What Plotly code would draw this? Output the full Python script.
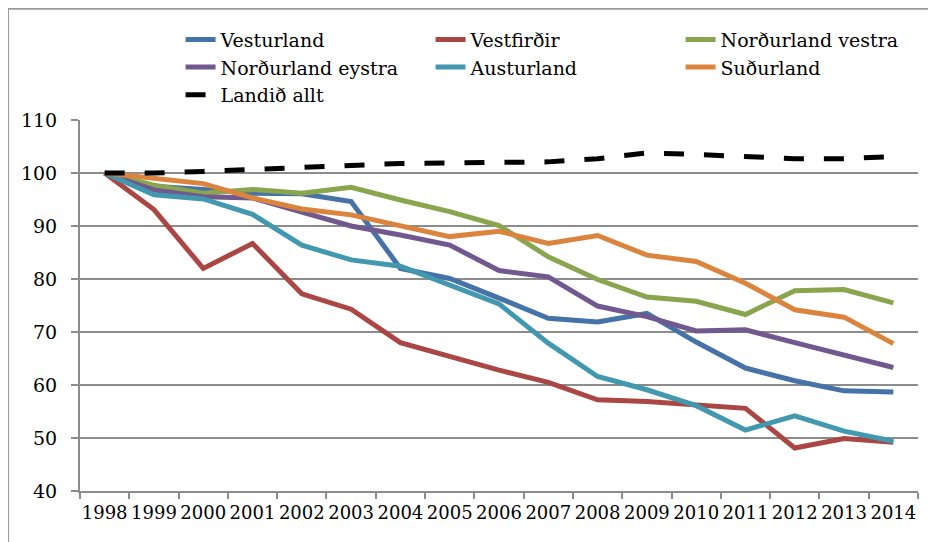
import plotly.graph_objects as go

years = [str(y) for y in range(1998, 2015)]

vesturland = [100, 97.5, 96.9, 96.2, 96.1, 94.6, 82.0, 80.1, 76.4, 72.6, 71.9, 73.5, 68.1, 63.2, 60.8, 58.9, 58.7]
vestfirdir = [100, 93.1, 82.0, 86.7, 77.2, 74.3, 68.0, 65.3, 62.8, 60.5, 57.2, 56.9, 56.3, 55.6, 48.1, 49.9, 49.2]
nordurland_vestra = [100, 97.7, 96.2, 96.9, 96.2, 97.3, 94.9, 92.7, 90.1, 84.2, 79.9, 76.6, 75.8, 73.3, 77.8, 78.0, 75.5]
nordurland_eystra = [100, 96.8, 95.5, 95.3, 92.6, 90.0, 88.3, 86.4, 81.6, 80.4, 74.9, 72.9, 70.2, 70.4, 68.0, 65.7, 63.3]
austurland = [100, 95.9, 95.1, 92.2, 86.4, 83.6, 82.4, 78.9, 75.3, 67.9, 61.6, 59.1, 56.1, 51.5, 54.2, 51.3, 49.4]
sudurland = [100, 99.0, 98.0, 95.3, 93.2, 92.1, 90.0, 88.0, 89.0, 86.7, 88.2, 84.5, 83.3, 79.2, 74.2, 72.8, 67.8]
landid_allt = [100, 100.0, 100.3, 100.7, 101.0, 101.3, 101.8, 101.9, 101.9, 102.1, 102.7, 103.8, 103.5, 103.2, 102.7, 102.7, 103.1]

series = [
    ("Vesturland", vesturland, "#4572A7", "solid"),
    ("Vestfirðir", vestfirdir, "#AA4643", "solid"),
    ("Norðurland vestra", nordurland_vestra, "#89A54E", "solid"),
    ("Norðurland eystra", nordurland_eystra, "#71588F", "solid"),
    ("Austurland", austurland, "#4198AF", "solid"),
    ("Suðurland", sudurland, "#DB843D", "solid"),
    ("Landið allt", landid_allt, "#000000", "20px,20px"),
]

fig = go.Figure()
for name, vals, color, dash in series:
    fig.add_trace(go.Scatter(
        x=years, y=vals, name=name, mode="lines",
        line=dict(color=color, width=5, dash=dash),
    ))

grid = "#8C8C8C"
font_family = "DejaVu Serif"

fig.update_layout(
    width=936, height=542,
    margin=dict(l=72, r=26, t=112, b=59),
    paper_bgcolor="white", plot_bgcolor="white",
    font=dict(family=font_family, color="black"),
    showlegend=True,
    legend=dict(
        orientation="h", x=0.12, y=1.268, xanchor="left", yanchor="top",
        entrywidth=205, entrywidthmode="pixels",
        font=dict(size=19, family=font_family),
        bgcolor="rgba(0,0,0,0)",
        traceorder="normal",
    ),
    xaxis=dict(
        type="category", range=[-0.5, 16.5],
        showgrid=False, showline=True, linecolor=grid, linewidth=2,
        ticks="outside", tickson="boundaries", ticklen=6, tickcolor=grid, tickwidth=2,
        tickfont=dict(size=18, family=font_family),
        tickangle=0,
        ticklabelstandoff=4,
    ),
    yaxis=dict(
        range=[40, 110], dtick=10, tick0=40,
        showgrid=True, gridcolor=grid, gridwidth=2,
        showline=True, linecolor=grid, linewidth=2,
        ticks="outside", ticklen=7, tickcolor=grid, tickwidth=2,
        tickfont=dict(size=19, family=font_family),
        ticklabelstandoff=10,
        zeroline=False,
    ),
    shapes=[dict(
        type="rect", xref="paper", yref="paper",
        x0=-0.0859, x1=1.05, y0=-0.2, y1=1.30,
        line=dict(color="#9A9A9A", width=2), fillcolor="rgba(0,0,0,0)",
        layer="below",
    )],
)

fig.write_html("out.html")
